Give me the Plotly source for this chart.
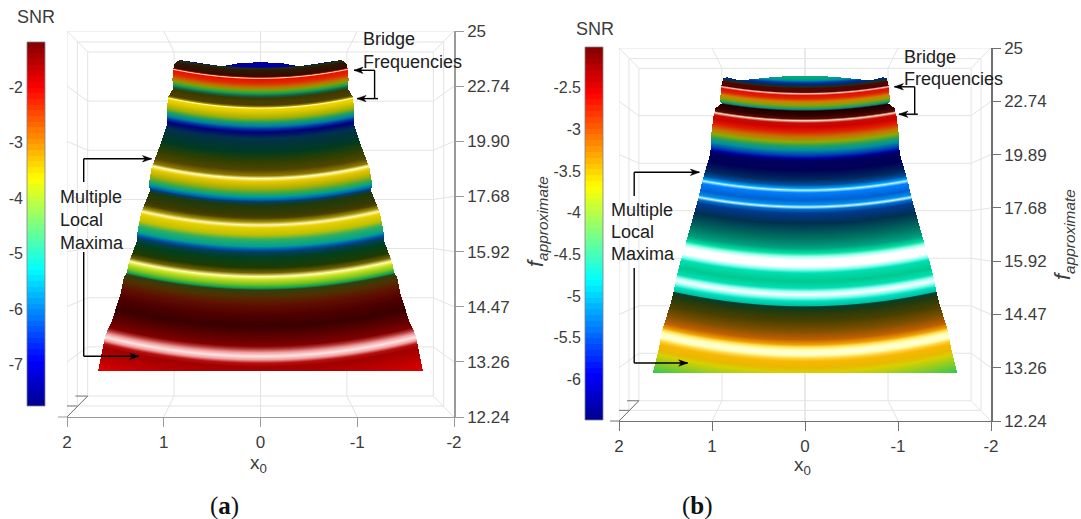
import numpy as np
import plotly.graph_objects as go

W, H = 1081, 519

# ---------- axis labels ----------
X_TICKS = [2, 1, 0, -1, -2]
Y_LABELS_A = ["12.24", "13.26", "14.47", "15.92", "17.68", "19.90", "22.74", "25"]
Y_LABELS_B = ["12.24", "13.26", "14.47", "15.92", "17.68", "19.89", "22.74", "25"]
SNR_TICKS_A = [-2, -3, -4, -5, -6, -7]
SNR_TICKS_B = [-2.5, -3, -3.5, -4, -4.5, -5, -5.5, -6]
SNR_RANGE_A = [-7.74, -1.19]
SNR_RANGE_B = [-6.49, -2.01]

# ---------- shaded bands read down the centre line of each surface ----------
BAND_POS_A = [6.44, 6.35, 6.33, 6.29, 6.18, 6.165, 6.15, 6.135, 6.13, 6.06, 5.985, 5.93, 5.876, 5.822, 5.785,
              5.658, 5.627, 5.609, 5.586, 5.531, 5.423, 5.35, 5.278, 5.223, 5.169, 5.06, 4.806, 4.625, 4.479,
              4.376, 4.329, 4.267, 4.153, 4.062, 3.995, 3.935, 3.905, 3.845, 3.663, 3.609, 3.536, 3.482, 3.428,
              3.301, 3.21, 3.089, 3.029, 2.987, 2.884, 2.702, 2.612, 2.544, 2.485, 2.394, 2.334, 2.298, 2.176,
              2.031, 1.85, 1.638, 1.433, 1.28, 1.23, 1.16, 1.094, 1.03, 0.97, 0.9, 0.834, 0.37]
BAND_COL_A = ["#0000a0", "#0000a0", "#203010", "#2a1a05", "#3a0800", "#a02000", "#ffe0c0", "#ff4020", "#e81000", "#e02800",
              "#c07000", "#80a000", "#20a050", "#106040", "#3a3a00", "#504000", "#a09000", "#ffffb0", "#f0d800", "#e0c800",
              "#a0b000", "#20a060", "#0080a0", "#0030a0", "#00007a", "#003050", "#003a20", "#304000", "#504500", "#907800",
              "#ffffb0", "#e8c800", "#b0b000", "#40a840", "#00a090", "#0060b0", "#004070", "#1a3a10", "#3a3a00", "#4a4000",
              "#a09000", "#fff8b0", "#e8d000", "#c0c000", "#30b060", "#00a090", "#0050b0", "#004060", "#004020", "#203a00",
              "#706000", "#ffffa0", "#c8e020", "#70c020", "#10a050", "#304010", "#503000", "#601000", "#500000", "#3a0000",
              "#600000", "#800000", "#b03030", "#f0a0a0", "#ffe4e4", "#f0a0a0", "#b81010", "#a00000", "#a80000", "#e80000"]

BAND_POS_B = [6.493, 6.455, 6.399, 6.348, 6.305, 6.273, 6.249, 6.174, 6.149, 6.118, 6.061, 5.992, 5.93, 5.879, 5.849,
              5.823, 5.742, 5.673, 5.643, 5.598, 5.523, 5.429, 5.335, 5.241, 5.16, 5.085, 4.992, 4.93, 4.885, 4.71,
              4.522, 4.429, 4.367, 4.335, 4.284, 4.147, 4.059, 4.016, 3.973, 3.898, 3.71, 3.434, 3.246, 3.147, 3.083,
              3.021, 2.895, 2.834, 2.772, 2.614, 2.49, 2.426, 2.364, 2.302, 2.239, 2.158, 2.139, 2.051, 1.863, 1.676,
              1.52, 1.426, 1.379, 1.332, 1.276, 1.22, 1.163, 1.107, 0.989, 0.906, 0.54]
BAND_COL_B = ["#00b070", "#00b070", "#0090a0", "#0030a0", "#002a60", "#203010", "#500500", "#500500", "#ffc8b8", "#e01000",
              "#e02000", "#d08000", "#90a000", "#30a050", "#108080", "#200000", "#300000", "#5a0800", "#ffd8c8", "#c01000",
              "#d00000", "#e02000", "#c87000", "#90a800", "#20a060", "#0090a0", "#0040b0", "#0000a0", "#000060", "#000055",
              "#002a60", "#0050a0", "#00a0ff", "#b8f8ff", "#0080ff", "#0060d0", "#0090f0", "#c8f8ff", "#0070d0", "#003a90",
              "#003050", "#007060", "#00a080", "#00e0a0", "#a0fff0", "#ffffff", "#ffffff", "#80fff0", "#00e0b0", "#00c890",
              "#00e0b0", "#a0fff8", "#ffffff", "#80fff0", "#00e0c0", "#00c0a0", "#004030", "#203a10", "#4a4000", "#805000",
              "#c06000", "#f0a000", "#ffe060", "#ffffa0", "#ffffe8", "#ffffa0", "#ffd040", "#f8b800", "#e8b800", "#d8d000", "#30c850"]

# ---------- surface outline: half width against axis position ----------
EDGE_POS_A = [0.834, 1.47, 1.74, 2.23, 2.54, 2.6, 2.81, 3.2, 3.39, 3.7, 4.099, 4.255, 4.516, 4.897, 5.308, 5.386,
              5.604, 5.816, 5.957, 6.123, 6.306, 6.42, 6.48]
EDGE_HW_A = [1.683, 1.61, 1.54, 1.451, 1.415, 1.39, 1.362, 1.28, 1.273, 1.237, 1.148, 1.155, 1.13, 1.048, 0.97, 0.973,
             0.97, 0.955, 0.906, 0.913, 0.906, 0.89, 0.84]
TOP_X_A = [0.0, 0.2, 0.4, 0.6, 0.83, 0.88, 0.92]
TOP_POS_A = [6.44, 6.43, 6.37, 6.42, 6.48, 6.45, 6.3]
CURVE_U_A = [1.1, 2.5, 3.4, 4.3, 5.5, 6.1]
CURVE_C_A = [0.135, 0.15, 0.163, 0.18, 0.2, 0.2]

EDGE_POS_B = [0.90, 1.314, 1.689, 2.196, 2.458, 2.646, 3.021, 3.584, 4.166, 4.504, 4.992, 5.179, 5.367, 5.742, 5.874,
              5.967, 6.005, 6.286, 6.44, 6.50]
EDGE_HW_B = [1.642, 1.58, 1.542, 1.449, 1.412, 1.394, 1.338, 1.246, 1.153, 1.108, 1.027, 1.012, 1.012, 0.986, 0.967,
             0.895, 0.916, 0.905, 0.88, 0.83]
TOP_X_B = [0.0, 0.3, 0.7, 0.84, 0.88, 0.92]
TOP_POS_B = [6.49, 6.47, 6.40, 6.46, 6.44, 6.2]
CURVE_U_B = [1.1, 4.0, 6.0]
CURVE_C_B = [0.135, 0.14, 0.165]

# MATLAB jet anchors
JET = [[0, "rgb(0,0,143)"], [0.125, "rgb(0,0,255)"], [0.375, "rgb(0,255,255)"],
       [0.625, "rgb(255,255,0)"], [0.875, "rgb(255,0,0)"], [1, "rgb(128,0,0)"]]

FONT = "Liberation Sans"
INK = "#3c3c3c"
GRID = "#e3e3e3"


def px(x):
    return x / W


def py(y):
    return 1 - y / H


def field(band_pos, curve_u, curve_c, edge_pos, edge_hw, top_x, top_pos, nx, ny):
    xs = np.linspace(-2, 2, nx)
    ys = np.linspace(0, 7, ny)
    us = np.linspace(min(band_pos) - 0.4, max(band_pos) + 0.6, 2400)
    cs = np.interp(us, curve_u, curve_c)
    z = np.empty((ny, nx), dtype="float32")
    for j, x in enumerate(xs):
        z[:, j] = np.interp(ys, us + cs * x * x, us)
    hw = np.interp(ys, edge_pos, edge_hw, left=-1, right=-1)
    X, Y = np.meshgrid(xs, ys)
    top = np.interp(np.abs(X), top_x, top_pos)
    z[(np.abs(X) > hw[:, None]) | (Y > top) | (Y < edge_pos[0])] = np.nan
    return xs, ys, z


def band_scale(band_pos, band_col):
    lo, hi = min(band_pos), max(band_pos)
    pairs = sorted(zip(band_pos, band_col))
    return lo, hi, [[(p - lo) / (hi - lo), c] for p, c in pairs]


fig = go.Figure()

PANELS = [
    dict(x0=67, x1=454, y0=417, y1=31, cb=(27, 45, 42, 406), ticks=SNR_TICKS_A, rng=SNR_RANGE_A, labs=Y_LABELS_A,
         pos=BAND_POS_A, col=BAND_COL_A, cu=CURVE_U_A, cc=CURVE_C_A, ep=EDGE_POS_A, eh=EDGE_HW_A, tx=TOP_X_A, tp=TOP_POS_A,
         axc="#9a9a9a", ext=58),
    dict(x0=619, x1=991, y0=421, y1=48, cb=(585, 603, 47, 420), ticks=SNR_TICKS_B, rng=SNR_RANGE_B, labs=Y_LABELS_B,
         pos=BAND_POS_B, col=BAND_COL_B, cu=CURVE_U_B, cc=CURVE_C_B, ep=EDGE_POS_B, eh=EDGE_HW_B, tx=TOP_X_B, tp=TOP_POS_B,
         axc="#707070", ext=610),
]

shapes = []
layout_axes = {}
for i, p in enumerate(PANELS):
    n = 2 * i + 1
    xa, ya = ("x", "y") if n == 1 else (f"x{n}", f"y{n}")
    xs, ys, z = field(p["pos"], p["cu"], p["cc"], p["ep"], p["eh"], p["tx"], p["tp"],
                      p["x1"] - p["x0"], p["y0"] - p["y1"])
    lo, hi, scale = band_scale(p["pos"], p["col"])
    fig.add_trace(go.Heatmap(x=xs, y=ys, z=z, xaxis=xa, yaxis=ya, zmin=lo, zmax=hi, colorscale=scale,
                             showscale=False, hoverinfo="skip", zsmooth=False))
    levels = np.linspace(p["rng"][0], p["rng"][1], 65)
    mids = (levels[:-1] + levels[1:]) / 2
    fig.add_trace(go.Heatmap(x=[0, 1], y=mids, z=np.column_stack([mids, mids]), xaxis=f"x{n+1}", yaxis=f"y{n+1}",
                             zmin=p["rng"][0], zmax=p["rng"][1], colorscale=JET, showscale=False,
                             hoverinfo="skip", zsmooth=False))
    kx, ky = ("xaxis", "yaxis") if n == 1 else (f"xaxis{n}", f"yaxis{n}")
    layout_axes[kx] = dict(domain=[px(p["x0"]), px(p["x1"])], range=[2, -2], tickvals=X_TICKS,
                           ticktext=[str(v) for v in X_TICKS], ticks="outside", ticklen=9, tickcolor=p["axc"], tickwidth=1,
                           showgrid=False, zeroline=False, showline=True, linecolor=p["axc"], linewidth=1,
                           tickfont=dict(family=FONT, size=17, color=INK), ticklabelstandoff=1,
                           anchor=ya)
    layout_axes[ky] = dict(domain=[py(p["y0"]), py(p["y1"])], range=[0, 7], tickvals=list(range(8)),
                           ticktext=p["labs"], side="right", ticks="outside", ticklen=8, tickcolor=p["axc"], tickwidth=1,
                           showgrid=False, zeroline=False, showline=True, linecolor=p["axc"], linewidth=1.5,
                           tickfont=dict(family=FONT, size=17, color=INK), anchor=xa)
    l, r, t, b = p["cb"]
    layout_axes[f"xaxis{n+1}"] = dict(domain=[px(l), px(r)], range=[-0.5, 1.5], visible=False, anchor=f"y{n+1}")
    layout_axes[f"yaxis{n+1}"] = dict(domain=[py(b), py(t)], range=p["rng"], tickvals=p["ticks"],
                                      ticktext=[f"{v:g}" for v in p["ticks"]], side="left", ticks="",
                                      showgrid=False, zeroline=False, showline=False, ticklabelstandoff=3,
                                      tickfont=dict(family=FONT, size=16, color=INK), anchor=f"x{n+1}")
    # colorbar frame
    shapes.append(dict(type="rect", xref="paper", yref="paper", x0=px(l), x1=px(r), y0=py(b), y1=py(t),
                       line=dict(color="#808080", width=0.8), layer="above"))

    # 3D box wireframe behind the surface, in axis units
    ix, mx, ib, mb, it, mt = 1.786, 1.893, 0.38, 0.2, 6.62, 6.8

    def seg(x0, y0, x1, y1, color=GRID, width=1):
        shapes.append(dict(type="line", xref=xa, yref=ya, x0=x0, y0=y0, x1=x1, y1=y1,
                           line=dict(color=color, width=width), layer="below"))

    seg(-2, 7, 2, 7)
    for xr, yb0, yt0 in ((ix, ib, it), (mx, mb, mt)):
        seg(-xr, yb0, xr, yb0); seg(-xr, yt0, xr, yt0)
        seg(-xr, yb0, -xr, yt0); seg(xr, yb0, xr, yt0)
    seg(2, 0, 2, 7)
    for v in X_TICKS[1:-1]:
        seg(v, 7, v * 0.893, it)
        seg(v * 0.893, it, v * 0.893, ib)
        seg(v, 0, v * 0.893, ib)
    seg(0, 0, 0, 7)
    for s in (-1, 1):
        seg(s * 2, 7, s * ix, it)
        seg(s * 2, 0, s * ix, ib)
    for k in range(1, 7):
        iy = ib + k * (it - ib) / 7
        seg(-ix, iy, ix, iy)
        seg(-2, k, -ix, iy)
        seg(2, k, ix, iy)
    # darker z-axis foot at the left
    seg(2, 0, ix, ib, "#707070", 1)
    seg(mx, mb, 2.0, mb, "#707070", 1)
    seg(ix, ib, mx + 0.02, ib, "#707070", 1)
    shapes.append(dict(type="line", xref="paper", yref="paper", x0=px(p["ext"]), x1=px(p["x0"]),
                       y0=py(p["y0"]), y1=py(p["y0"]), line=dict(color=p["axc"], width=1)))

# call-out leader lines and arrows (reference pixel positions)
LEADERS = [
    (374.6, 70.3, 374.6, 98.6), (83.7, 182, 83.7, 158.8), (83.7, 252, 83.7, 356.3),
    (914.7, 86.8, 914.7, 114.2), (634.2, 196, 634.2, 172.3), (634.2, 268, 634.2, 363),
]
ARROWS = [
    (374.6, 70.3, 354, 70.3), (378, 98.6, 357, 98.6), (83.7, 158.8, 151.5, 158.8), (83.7, 356.3, 138.8, 356.3),
    (914.7, 86.8, 894.4, 86.8), (917.9, 114.2, 898.9, 114.2), (634.2, 172.3, 699.4, 172.3), (634.2, 363, 687.7, 363),
]
for a, b, c, d in LEADERS:
    shapes.append(dict(type="line", xref="paper", yref="paper", x0=px(a), y0=py(b), x1=px(c), y1=py(d),
                       line=dict(color="#000000", width=1.4)))
for a, b, c, d in ARROWS:
    shapes.append(dict(type="line", xref="paper", yref="paper", x0=px(a), y0=py(b), x1=px(c), y1=py(d),
                       line=dict(color="#000000", width=1.4)))
    sgn = 1 if c > a else -1
    tri = (f"M {px(c)} {py(d)} L {px(c - sgn * 9)} {py(d - 3.2)} L {px(c - sgn * 6.5)} {py(d)} "
           f"L {px(c - sgn * 9)} {py(d + 3.2)} Z")
    shapes.append(dict(type="path", xref="paper", yref="paper", path=tri, fillcolor="#000000",
                       line=dict(color="#000000", width=0.5)))

annotations = []


def txt(text, x, y, size=18, color="#202020", xanchor="left", family=FONT, angle=0):
    annotations.append(dict(xref="paper", yref="paper", x=px(x), y=py(y), text=text, showarrow=False, xanchor=xanchor,
                            yanchor="middle", textangle=angle, font=dict(family=family, size=size, color=color)))


for t, x, y in [("Bridge", 361, 39), ("Frequencies", 361, 62.5), ("Multiple", 57.5, 197), ("Local", 57.5, 220),
                ("Maxima", 57.5, 243), ("Bridge", 902, 56.8), ("Frequencies", 902, 79.4), ("Multiple", 609, 209.5),
                ("Local", 609, 231.8), ("Maxima", 609, 254)]:
    txt(t, x, y)
txt("SNR", 35.6, 17, 18, INK, "center")
txt("SNR", 594.5, 28.7, 18, INK, "center")
txt("x<sub>0</sub>", 258, 464, 19, INK, "center")
txt("x<sub>0</sub>", 802, 466, 19, INK, "center")
txt("(<b>a</b>)", 224.5, 506, 25, "#111111", "center", "Liberation Serif")
txt("(<b>b</b>)", 697, 506, 25, "#111111", "center", "Liberation Serif")
txt("<i>f<sub>approximate</sub></i>", 537, 222, 22, INK, "center", FONT, -90)
txt("<i>f<sub>approximate</sub></i>", 1064, 235, 22, INK, "center", FONT, -90)

fig.update_layout(width=W, height=H, autosize=False, margin=dict(l=0, r=0, t=0, b=0, autoexpand=False),
                  paper_bgcolor="white", plot_bgcolor="rgba(0,0,0,0)", showlegend=False, shapes=shapes,
                  annotations=annotations, **layout_axes)

fig.write_html("out.html", post_script="document.body.style.margin='0';", config={"displayModeBar": False})
